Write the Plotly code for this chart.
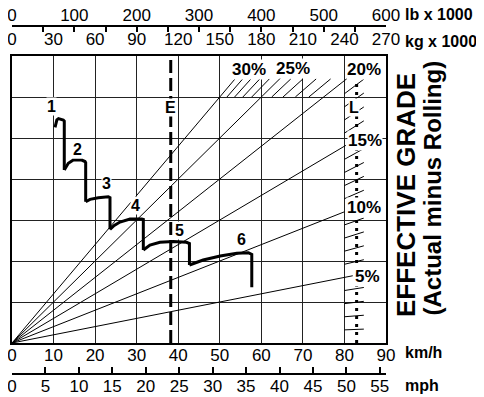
import plotly.graph_objects as go

# axis scales
kmh_ticks = list(range(0, 91, 10))
mph_ticks = list(range(0, 56, 5))
kg_ticks = list(range(0, 271, 30))
lb_ticks = list(range(0, 601, 50))
lb_labels = [str(v) if v % 100 == 0 else "" for v in lb_ticks]

# rimpull curve per gear: speed (km/h) and rimpull (kg x 1000)
gear_speed = [
    [10.35, 10.55, 10.8, 11.2, 11.72, 12.34, 12.58, 12.58],
    [12.58, 13.0, 13.55, 14.75, 16.77, 17.57, 17.73, 17.73],
    [17.73, 18.2, 18.77, 20.77, 23.17, 23.58, 23.58],
    [23.58, 24.6, 25.99, 28.4, 31.21, 31.6, 31.6],
    [31.6, 33.2, 35.6, 38.8, 42.0, 42.7, 42.7],
    [42.7, 46.0, 50.1, 54.1, 56.9, 57.7, 57.7],
]
gear_rimpull = [
    [39.45, 40.3, 40.8, 41.05, 41.0, 40.8, 40.6, 31.64],
    [31.64, 32.3, 32.87, 33.47, 33.47, 33.2, 33.0, 25.84],
    [25.84, 26.1, 26.28, 26.57, 26.76, 26.6, 20.8],
    [20.8, 21.5, 22.13, 22.68, 22.7, 22.6, 17.0],
    [17.0, 17.92, 18.42, 18.55, 18.42, 18.2, 14.27],
    [14.27, 15.18, 15.91, 16.4, 16.52, 16.2, 10.2],
]
gear_names = ["1", "2", "3", "4", "5", "6"]
gear_label_speed = [9.55, 15.7, 22.8, 29.8, 40.3, 55.3]
gear_label_rimpull = [43.2, 35.4, 29.2, 25.1, 20.5, 19.0]

# effective grade lines (%), from origin up to an end weight (kg x 1000)
grades = [5, 10, 15, 20, 25, 30]
grade_end_kg = [246, 240, 241, 245, 194, 162]
grade_label_kg = [257, 254.1, 254.8, 254.1, 202.9, 171.1]
grade_label_rimpull = [12.25, 24.7, 37.1, 50.1, 50.3, 50.1]

# 1 % marks along the loaded line and across the top band
minor_grades_l = [1, 2, 3, 4, 6, 7, 8, 9, 11, 12, 13, 14, 16, 17, 18, 19]
minor_grades_top = [21, 22, 23, 24, 26, 27, 28, 29]

empty_kg = 114.6
loaded_kg = 248.8
empty_label_rimpull = 43.1
loaded_label_rimpull = 43.0

RIM_MAX = 52.5

FONT = "Liberation Sans"
# the page body adds an 8 px margin, so the figure is laid out 8 px smaller
OFF = 8
W, H = 476, 389
ML, MR, MT, MB = 4, 74, 0, 0
PW, PH = W - ML - MR, H - MT - MB


def px_x(x):
    return (x - OFF - ML) / PW


def px_y(y):
    return (H - MB - (y - OFF)) / PH


fig = go.Figure()

# grade lines
for g, end in zip(grades, grade_end_kg):
    fig.add_trace(go.Scatter(
        x=[0, end], y=[0, g / 100 * end], xaxis="x2", yaxis="y",
        mode="lines", line=dict(color="black", width=1),
        hoverinfo="skip", showlegend=False))

mx, my = [], []
for g in minor_grades_l:
    mx += [240, 254, None]
    my += [g / 100 * 240, g / 100 * 254, None]
for g in minor_grades_top:
    mx += [45.0 / (g / 100), 48.3 / (g / 100), None]
    my += [45.0, 48.3, None]
fig.add_trace(go.Scatter(
    x=mx, y=my, xaxis="x2", yaxis="y", mode="lines",
    line=dict(color="black", width=1), hoverinfo="skip", showlegend=False))

# empty / loaded weight lines
fig.add_trace(go.Scatter(
    x=[empty_kg, empty_kg], y=[0, RIM_MAX], xaxis="x2", yaxis="y",
    mode="lines", line=dict(color="black", width=3, dash="13px,5px"),
    hoverinfo="skip", showlegend=False))
fig.add_trace(go.Scatter(
    x=[loaded_kg, loaded_kg], y=[0, RIM_MAX], xaxis="x2", yaxis="y",
    mode="lines", line=dict(color="black", width=3, dash="3px,5px"),
    hoverinfo="skip", showlegend=False))

# rimpull curve
for sp, rp in zip(gear_speed, gear_rimpull):
    fig.add_trace(go.Scatter(
        x=sp, y=rp, xaxis="x", yaxis="y", mode="lines",
        line=dict(color="black", width=3), hoverinfo="skip",
        showlegend=False))

# mph / lb helper axes need a trace each to show up
fig.add_trace(go.Scatter(x=[0], y=[0], xaxis="x3", yaxis="y",
                         mode="markers", marker=dict(opacity=0),
                         hoverinfo="skip", showlegend=False))
fig.add_trace(go.Scatter(x=[0], y=[0], xaxis="x4", yaxis="y",
                         mode="markers", marker=dict(opacity=0),
                         hoverinfo="skip", showlegend=False))

ann = []
for name, sx, sy in zip(gear_names, gear_label_speed, gear_label_rimpull):
    ann.append(dict(x=sx, y=sy, xref="x", yref="y", text=name,
                    showarrow=False, bgcolor="white", borderpad=0,
                    font=dict(family=FONT, size=16, color="black",
                              weight="bold")))
for g, lx, ly in zip(grades, grade_label_kg, grade_label_rimpull):
    ann.append(dict(x=lx, y=ly, xref="x2", yref="y", text=f"{g}%",
                    showarrow=False, bgcolor="white", borderpad=0,
                    font=dict(family=FONT, size=17, color="black",
                              weight="bold")))
ann.append(dict(x=empty_kg, y=empty_label_rimpull, xref="x2", yref="y",
                text="E", showarrow=False, bgcolor="white", borderpad=0,
                font=dict(family=FONT, size=16, color="black", weight="bold")))
ann.append(dict(x=loaded_kg - 1.8, y=loaded_label_rimpull, xref="x2",
                yref="y", text="L", showarrow=False, bgcolor="white",
                borderpad=0,
                font=dict(family=FONT, size=16, color="black", weight="bold")))

unit_font = dict(family=FONT, size=16, color="black", weight="bold")
for txt, x, y in [("lb x 1000", 403, 15), ("kg x 1000", 403, 42),
                  ("km/h", 403, 352), ("mph", 403, 385)]:
    ann.append(dict(x=px_x(x), y=px_y(y), xref="paper", yref="paper",
                    text=txt, showarrow=False, xanchor="left",
                    yanchor="middle", font=unit_font))

ann.append(dict(x=px_x(423), y=px_y(195), xref="paper", yref="paper",
                text="EFFECTIVE GRADE", textangle=-90, showarrow=False,
                font=dict(family=FONT, size=26, color="black",
                          weight="bold")))
ann.append(dict(x=px_x(447), y=px_y(188), xref="paper", yref="paper",
                text="(Actual minus Rolling)", textangle=-90,
                showarrow=False,
                font=dict(family=FONT, size=24, color="black",
                          weight="bold")))

x_dom = [px_x(12), px_x(386)]
tick_font = dict(family=FONT, size=17, color="black")

fig.update_layout(
    width=W, height=H,
    margin=dict(l=ML, r=MR, t=MT, b=MB, autoexpand=False),
    paper_bgcolor="white", plot_bgcolor="white",
    showlegend=False,
    annotations=ann,
    xaxis=dict(domain=x_dom, range=[0, 90], tickvals=kmh_ticks,
               showgrid=True, gridcolor="#222", gridwidth=1,
               showline=True, mirror=True, linecolor="black", linewidth=2,
               ticks="", tickfont=tick_font, zeroline=False,
               ticklabelstandoff=-4, ticklabeloverflow="allow",
               automargin=False, fixedrange=True),
    xaxis2=dict(domain=x_dom, range=[0, 270], overlaying="x", side="top",
                anchor="y", tickvals=kg_ticks, showgrid=False,
                ticks="outside", ticklen=3, tickcolor="rgba(0,0,0,0)",
                tickfont=tick_font, zeroline=False,
                ticklabeloverflow="allow", automargin=False),
    xaxis3=dict(domain=x_dom, range=[0, 90 / 1.609344], overlaying="x",
                anchor="free", position=px_y(374), side="bottom",
                tickvals=mph_ticks, showgrid=False, showline=True,
                linecolor="black", linewidth=1.5, ticks="inside",
                ticklen=6, tickwidth=1.5, tickcolor="black",
                tickfont=tick_font, zeroline=False, ticklabelstandoff=-3,
                ticklabeloverflow="allow", automargin=False),
    xaxis4=dict(domain=[px_x(14), px_x(389)], range=[0, 600],
                overlaying="x", anchor="free", position=px_y(26),
                side="top", tickvals=lb_ticks, ticktext=lb_labels,
                showgrid=False, showline=True, linecolor="black",
                linewidth=1.5, ticks="inside", ticklen=5, tickwidth=1.5,
                tickcolor="black", tickfont=tick_font, zeroline=False,
                ticklabelstandoff=-3, ticklabeloverflow="allow",
                automargin=False),
    yaxis=dict(domain=[px_y(343), px_y(56)], range=[0, RIM_MAX],
               dtick=7.5, showticklabels=False, showgrid=True,
               gridcolor="#222", gridwidth=1, showline=True, mirror=True,
               linecolor="black", linewidth=2, ticks="", zeroline=False,
               automargin=False, fixedrange=True),
)

fig.write_html("out.html")
